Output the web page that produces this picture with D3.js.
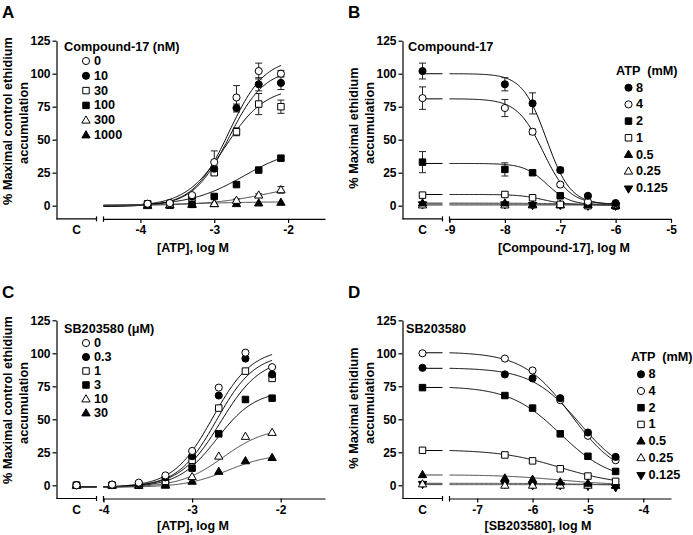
<!DOCTYPE html>
<html><head><meta charset="utf-8">
<script src="https://cdn.jsdelivr.net/npm/d3@7"></script>
<style>
body{margin:0;background:#fff;}
svg{display:block;font-family:"Liberation Sans",Arial,sans-serif;font-weight:bold;}
</style></head><body>
<svg id="c" width="693" height="535"></svg>
<script>
// ---------- DATA ----------
// Panel A: ATP concentration-response, Compound-17 (nM)
const aX = [-3.903, -3.602, -3.301, -3, -2.699, -2.398, -2.097];
const aLabels = ["0", "10", "30", "100", "300", "1000"];
const aY0    = [1.5, 2, 8, 33, 82, 102, 100];
const aY10   = [1, 2, 7, 28, 74, 92, 93];
const aY30   = [1.5, 1, 6, 25, 56, 77, 75];
const aY100  = [1, 0.5, 1, 7, 16, 27, 36];
const aY300  = [0, 0.5, 1, 1.5, 4, 8, 12];
const aY1000 = [0.5, 0.5, 1, 1.5, 1.5, 2, 2.5];
const aE0    = [0, 0, 1, 8.5, 9, 6, 2.5];
const aE10   = [0, 0, 0, 2, 3, 5, 5];
const aE30   = [0, 0, 0, 2, 3, 8, 5];
const aE100  = [0, 0, 0, 1, 1, 1, 1.5];
const aE300  = [0, 0, 0, 0, 1, 1, 2.5];
const aE1000 = [0, 0, 0, 0, 0, 0, 0];
const aFitTop    = [112, 104, 90, 45, 20, 3];
const aFitEC50   = [-2.8, -2.8, -2.85, -2.6, -2.2, -3.2];
const aFitHill   = [1.8, 1.8, 1.6, 1.2, 1.0, 1.0];
const aFitBottom = [-0.5, -0.5, -0.5, 0, 0, 0.5];

// Panel B: Compound-17 inhibition curves at several ATP (mM)
const bX = ["C", -8, -7.5, -7, -6.5, -6];
const bLabels = ["8", "4", "2", "1", "0.5", "0.25", "0.125"];
const bY8    = [102, 92, 77.5, 27, 7.5, 2];
const bY4    = [81.5, 74, 56, 16, 3, 1];
const bY2    = [33, 27.5, 25, 7.5, 1, 0];
const bY1    = [8, 8.5, 6, 1, 0, 0];
const bY05   = [2, 2, 1, 1, 1, 0.5];
const bY025  = [0.5, 0.5, 0.5, 0.5, 0.5, 0];
const bY0125 = [1.5, 1.5, 1, 1, 0.5, 0.5];
const bE8    = [6, 5, 8, 2, 1, 0];
const bE4    = [8.5, 6.5, 2, 1, 0, 0];
const bE2    = [8, 5, 1.5, 1, 0, 0];
const bE1    = [0, 0, 0, 0, 0, 0];
const bFitTop    = [100, 81, 32, 8.5, 2, 0.5, 1.3];
const bFitIC50   = [-7.25, -7.31, -7.24, -7.3, -7, -7, -7];
const bFitHill   = [2.0, 1.85, 2.1, 2.0, 1, 1, 1];
const bFitBottom = [1, 1, 0.5, 0.5, 1, 0.5, 0.8];

// Panel C: ATP concentration-response, SB203580 (µM)
const cX = ["C", -3.903, -3.602, -3.301, -3, -2.699, -2.398, -2.097];
const cLabels = ["0", "0.3", "1", "3", "10", "30"];
const cY0   = [0, 0.5, 2, 7.5, 26, 74, 100.5, 89.5];
const cY03  = [0, 0.5, 1, 6, 22, 68, 96, 84];
const cY1   = [0, 0, 0.5, 3, 19, 58.5, 86.5, 81];
const cY3   = [0, 0, 0, 1, 13, 39, 65, 66];
const cY10  = [0, 0, 0, 0.5, 6.5, 22, 37, 40];
const cY30  = [0, 0, 0, 0, 3, 10.5, 18.5, 21];
const cFitTop    = [104, 100, 97, 72, 44, 24];
const cFitEC50   = [-2.767, -2.725, -2.68, -2.72, -2.65, -2.6];
const cFitHill   = [1.95, 2.0, 1.9, 2.0, 1.8, 1.8];
const cFitBottom = [-1.5, -1.5, -1.5, -1.5, -1.5, -1.5];

// Panel D: SB203580 inhibition curves at several ATP (mM)
const dX = ["C", -6.5, -6, -5.5, -5, -4.5];
const dLabels = ["8", "4", "2", "1", "0.5", "0.25", "0.125"];
const dY8    = [89, 84, 81, 66, 40, 21.5];
const dY4    = [100, 96, 87, 64.5, 37.5, 19];
const dY2    = [74, 68, 58.5, 39, 22, 10.5];
const dY1    = [26.5, 23, 18.5, 12.5, 7, 3];
const dY05   = [8, 5.5, 4.5, 2.5, 1.5, 0];
const dY025  = [1, 0, 0, 0, 0, 0];
const dY0125 = [1.5, 1.5, 0.5, 0.5, 0, -1];
const dFitTop    = [89, 101, 75, 27, 8, 0.5, 1.5];
const dFitIC50   = [-5.15, -5.3, -5.5, -5.5, -5.5, -5.5, -5];
const dFitHill   = [1.0, 1.0, 0.95, 0.8, 0.8, 1, 1];
const dFitBottom = [5, 5, 3, 0, 0, 0.5, 0];

const yTicks = [0, 25, 50, 75, 100, 125];

// ---------- DRAWING ----------
const svg = d3.select("#c");
svg.append("rect").attr("width", 693).attr("height", 535).attr("fill", "#fff");

const symA = ["oc", "fc", "os", "fs", "ot", "ft"];
const symB = ["fc", "oc", "fs", "os", "ft", "ot", "fi"];

const panels = [
  {letter: "A", ox: 0, top: 40.7, dom: [-4.5, -1.5], ticks: [-4, -3, -2], hasC: false, agonist: true,
   x: aX, labels: aLabels, ys: [aY0, aY10, aY30, aY100, aY300, aY1000],
   errs: [aE0, aE10, aE30, aE100, aE300, aE1000],
   fit: [aFitTop, aFitEC50, aFitHill, aFitBottom], syms: symA,
   yTitle: ["% Maximal control ethidium", "accumulation"], yTc: [121, 123],
   xTitle: "[ATP], log M", xTx: 193, xTy: 248,
   leg: {title: "Compound-17 (nM)", tx: 64, ty: 47, sx: 86, lx: 94, y0: 61, dy: 14.8}},
  {letter: "B", ox: 346, top: 40.7, dom: [-9, -5], ticks: [-9, -8, -7, -6, -5], hasC: true, agonist: false,
   x: bX, labels: bLabels, ys: [bY8, bY4, bY2, bY1, bY05, bY025, bY0125],
   errs: [bE8, bE4, bE2, bE1, null, null, null],
   fit: [bFitTop, bFitIC50, bFitHill, bFitBottom], syms: symB,
   yTitle: ["% Maximal ethidium", "accumulation"], yTc: [128, 123],
   xTitle: "[Compound-17], log M", xTx: 564, xTy: 248,
   note: {text: "Compound-17", x: 408, y: 47},
   leg: {title: "ATP  (mM)", tx: 616, ty: 70.7, sx: 628.5, lx: 636, y0: 87.7, dy: 16.7}},
  {letter: "C", ox: 0, top: 320.3, dom: [-4, -1.5], ticks: [-4, -3, -2], hasC: true, agonist: true,
   x: cX, labels: cLabels, ys: [cY0, cY03, cY1, cY3, cY10, cY30],
   errs: [null, null, null, null, null, null],
   fit: [cFitTop, cFitEC50, cFitHill, cFitBottom], syms: symA,
   yTitle: ["% Maximal control ethidium", "accumulation"], yTc: [400, 403],
   xTitle: "[ATP], log M", xTx: 193, xTy: 526,
   leg: {title: "SB203580 (\u03bcM)", tx: 64, ty: 328.7, sx: 86, lx: 94, y0: 343, dy: 14}},
  {letter: "D", ox: 346, top: 320.3, dom: [-7.5, -3.5], ticks: [-7, -6, -5, -4], hasC: true, agonist: false,
   x: dX, labels: dLabels, ys: [dY8, dY4, dY2, dY1, dY05, dY025, dY0125],
   errs: [null, null, null, null, null, null, null],
   fit: [dFitTop, dFitIC50, dFitHill, dFitBottom], syms: symB,
   yTitle: ["% Maximal ethidium", "accumulation"], yTc: [408, 403],
   xTitle: "[SB203580], log M", xTx: 538, xTy: 526,
   note: {text: "SB203580", x: 406, y: 328.7},
   leg: {title: "ATP  (mM)", tx: 631, ty: 357, sx: 641, lx: 648.5, y0: 374.3, dy: 16.7}}
];

function drawSym(g, type, x, y) {
  const filled = type[0] === "f";
  const shape = type[1];
  let t, size;
  if (shape === "c") { t = d3.symbolCircle; size = 40; }
  else if (shape === "s") { t = d3.symbolSquare; size = 42; }
  else { t = d3.symbolTriangle; size = 30; }
  const p = g.append("path")
    .attr("d", d3.symbol().type(t).size(size)())
    .attr("fill", filled ? "#000" : "#fff")
    .attr("stroke", "#000").attr("stroke-width", 1);
  if (shape === "i") p.attr("transform", `translate(${x},${y + 0.5}) rotate(180)`);
  else if (shape === "t") p.attr("transform", `translate(${x},${y + 0.5})`);
  else p.attr("transform", `translate(${x},${y})`);
}

panels.forEach(P => {
  const g = svg.append("g");
  const x0 = P.ox + 56.5;
  const yBot = P.top + 178.2;
  const y = d3.scaleLinear().domain([-10, 125]).range([yBot, P.top]);
  const xs = d3.scaleLinear().domain(P.dom).range([x0 + 47, x0 + 268.5]);
  const cPos = x0 + 20;
  const px = v => v === "C" ? cPos : xs(v);

  // panel letter
  g.append("text").attr("x", P.ox + 2).attr("y", P.top - 22.4)
    .attr("font-size", 17).text(P.letter);

  // y axis
  const ya = g.append("g").attr("transform", `translate(${x0},0)`)
    .call(d3.axisLeft(y).tickValues(yTicks).tickSize(4).tickSizeOuter(0).tickPadding(2));
  ya.select(".domain").attr("stroke", "#000").attr("stroke-width", 1.2);
  ya.selectAll(".tick line").attr("stroke", "#000").attr("stroke-width", 1.2);
  ya.selectAll(".tick text").attr("font-size", 12).attr("font-family", "Liberation Sans, Arial, sans-serif")
    .attr("font-weight", "bold").attr("fill", "#000");

  // x axis: left segment (C)
  g.append("line").attr("x1", x0).attr("x2", x0 + 40).attr("y1", yBot).attr("y2", yBot)
    .attr("stroke", "#000").attr("stroke-width", 1.2);
  g.append("line").attr("x1", x0 + 40).attr("x2", x0 + 40).attr("y1", yBot - 2.5).attr("y2", yBot + 2.5)
    .attr("stroke", "#000").attr("stroke-width", 1.2);
  g.append("line").attr("x1", x0 + 47).attr("x2", x0 + 47).attr("y1", yBot - 2.5).attr("y2", yBot + 3)
    .attr("stroke", "#000").attr("stroke-width", 1.2);
  g.append("text").attr("x", cPos).attr("y", yBot + 7).attr("dy", "0.71em")
    .attr("text-anchor", "middle").attr("font-size", 12).text("C");

  const xa = g.append("g").attr("transform", `translate(0,${yBot})`)
    .call(d3.axisBottom(xs).tickValues(P.ticks).tickSize(4).tickSizeOuter(0).tickPadding(3)
      .tickFormat(d => String(d)));
  xa.select(".domain").attr("stroke", "#000").attr("stroke-width", 1.2);
  xa.selectAll(".tick line").attr("stroke", "#000").attr("stroke-width", 1.2);
  xa.selectAll(".tick text").attr("font-size", 12).attr("font-family", "Liberation Sans, Arial, sans-serif")
    .attr("font-weight", "bold").attr("fill", "#000");

  // axis titles
  P.yTitle.forEach((t, i) => {
    const tx = P.ox + (i === 0 ? 8.3 : 24.3);
    g.append("text").attr("transform", `translate(${tx},${P.yTc[i]}) rotate(-90)`)
      .attr("text-anchor", "middle").attr("dominant-baseline", "central")
      .attr("font-size", 12.7).text(t);
  });
  g.append("text").attr("x", P.xTx).attr("y", P.xTy).attr("text-anchor", "middle")
    .attr("dominant-baseline", "central").attr("font-size", 12.5).text(P.xTitle);

  // fitted curves
  const [tops, mids, hills, bots] = P.fit;
  const line = d3.line().x(d => d[0]).y(d => y(d[1]));
  const lastX = P.x[P.x.length - 1];
  P.ys.forEach((ser, i) => {
    const f = v => {
      const e = P.agonist ? (mids[i] - v) * hills[i] : (v - mids[i]) * hills[i];
      return bots[i] + (tops[i] - bots[i]) / (1 + Math.pow(10, e));
    };
    const col = i >= 4 ? "#444" : "#000";
    const pts = d3.range(0, 201).map(k => {
      const v = P.dom[0] + (lastX - P.dom[0]) * k / 200;
      return [xs(v), f(v)];
    });
    g.append("path").attr("d", line(pts)).attr("fill", "none")
      .attr("stroke", col).attr("stroke-width", 1);
    if (P.hasC) {
      const lv = f(P.dom[0]);
      g.append("path").attr("d", line([[cPos, lv], [x0 + 40, lv]])).attr("fill", "none")
        .attr("stroke", col).attr("stroke-width", 1);
    }
  });

  // error bars
  P.ys.forEach((ser, i) => {
    const er = P.errs[i];
    if (!er) return;
    ser.forEach((v, k) => {
      const e = er[k];
      if (!e) return;
      const xx = px(P.x[k]);
      g.append("line").attr("x1", xx).attr("x2", xx).attr("y1", y(v - e)).attr("y2", y(v + e))
        .attr("stroke", "#222").attr("stroke-width", 1);
      [v - e, v + e].forEach(w => g.append("line").attr("x1", xx - 3.5).attr("x2", xx + 3.5)
        .attr("y1", y(w)).attr("y2", y(w)).attr("stroke", "#222").attr("stroke-width", 1));
    });
  });

  // markers (draw last series first so first series ends on top)
  for (let i = P.ys.length - 1; i >= 0; i--) {
    P.ys[i].forEach((v, k) => drawSym(g, P.syms[i], px(P.x[k]), y(v)));
  }

  // legend
  const L = P.leg;
  g.append("text").attr("x", L.tx).attr("y", L.ty).attr("dominant-baseline", "central")
    .attr("font-size", 12.7).style("white-space", "pre").text(L.title);
  P.labels.forEach((lab, i) => {
    const yy = L.y0 + i * L.dy;
    drawSym(g, P.syms[i], L.sx, yy);
    g.append("text").attr("x", L.lx).attr("y", yy).attr("dominant-baseline", "central")
      .attr("font-size", 12.7).text(lab);
  });
  if (P.note) {
    g.append("text").attr("x", P.note.x).attr("y", P.note.y).attr("dominant-baseline", "central")
      .attr("font-size", 12.7).text(P.note.text);
  }
});
</script>
</body></html>
